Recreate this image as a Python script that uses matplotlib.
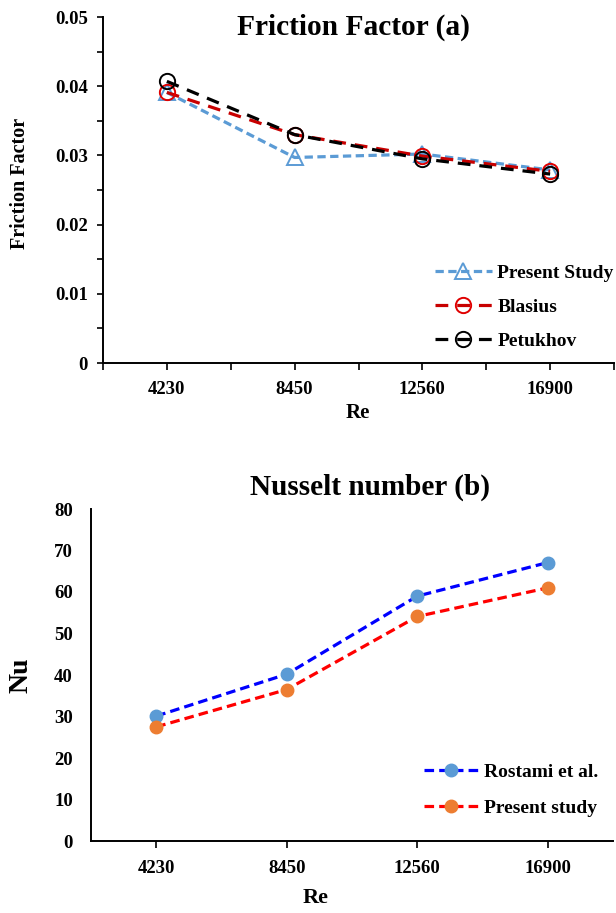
import matplotlib
matplotlib.use("Agg")
import matplotlib.pyplot as plt
from matplotlib.ticker import MultipleLocator

plt.rcParams["font.family"] = ["Liberation Serif", "DejaVu Serif"]
plt.rcParams["font.weight"] = "bold"

W, H = 616, 913

re_labels = ["4230", "8450", "12560", "16900"]

# friction factor (a)
f_present = [0.0391, 0.0297, 0.0302, 0.0279]
f_blasius = [0.0391, 0.0330, 0.0299, 0.0277]
f_petukhov = [0.0407, 0.0330, 0.0295, 0.0273]

# Nusselt number (b)
nu_rostami = [30.1, 40.2, 59.0, 67.1]
nu_present = [27.5, 36.5, 54.1, 61.0]


def px_axes(left, top, right, bottom):
    return [left / W, 1 - bottom / H, (right - left) / W, (bottom - top) / H]


def main() -> None:
    fig = plt.figure(figsize=(W / 100, H / 100), dpi=100)
    x = list(range(len(re_labels)))

    # ---- top panel ----
    ax1 = fig.add_axes(px_axes(103, 17, 614, 363))
    ax1.plot(x, f_present, color="#5B9BD5", lw=2.3, dashes=(2.6, 1.4),
             marker="^", ms=11, mfc="none", mec="#5B9BD5", mew=1.4,
             label="Present Study")
    ax1.plot(x, f_blasius, color="#C80000", lw=2.3, dashes=(4, 2.8),
             marker="o", ms=11, mfc="none", mec="#E00000", mew=1.4,
             label="Blasius")
    ax1.plot(x, f_petukhov, color="black", lw=2.3, dashes=(4, 2.8),
             marker="o", ms=11, mfc="none", mec="black", mew=1.4,
             label="Petukhov")

    ax1.set_xlim(-0.5, 3.5)
    ax1.set_ylim(0, 0.05)
    ax1.yaxis.set_minor_locator(MultipleLocator(0.005))
    ax1.set_yticks([0, 0.01, 0.02, 0.03, 0.04, 0.05])
    ax1.set_yticklabels(["0", "0.01", "0.02", "0.03", "0.04", "0.05"])
    ax1.set_xticks(x)
    ax1.set_xticklabels(re_labels)
    ax1.xaxis.set_minor_locator(MultipleLocator(0.5))
    ax1.tick_params(axis="y", which="both", direction="out", length=4,
                    width=1.2, pad=7, labelsize=13.5)
    ax1.tick_params(axis="x", which="both", direction="out", length=5,
                    width=1.2, pad=8, labelsize=13.5)
    for s in ["top", "right"]:
        ax1.spines[s].set_visible(False)
    for s in ["left", "bottom"]:
        ax1.spines[s].set_linewidth(1.4)

    ax1.legend(loc="center left", bbox_to_anchor=(0.65, 0.162), frameon=False,
               borderpad=0, borderaxespad=0, handlelength=2.9,
               handletextpad=0.3, labelspacing=0.83,
               prop={"size": 14, "weight": "bold"})

    fig.text(353 / W, 1 - 27 / H, "Friction Factor (a)", ha="center",
             va="center", fontsize=21.2, fontweight="bold")
    fig.text(20 / W, 1 - 183 / H, "Friction Factor", ha="center", va="center",
             rotation=90, fontsize=14.5, fontweight="bold")
    fig.text(358 / W, 1 - 413 / H, "Re", ha="center", va="center",
             fontsize=15, fontweight="bold")

    # ---- bottom panel ----
    ax2 = fig.add_axes(px_axes(91, 509, 613, 841))
    ax2.plot(x, nu_rostami, color="#0000FF", lw=2.3, dashes=(3, 1.6),
             marker="o", ms=9, mfc="#5B9BD5", mec="#5B9BD5",
             label="Rostami et al.")
    ax2.plot(x, nu_present, color="#FF0000", lw=2.3, dashes=(3, 1.6),
             marker="o", ms=9, mfc="#ED7D31", mec="#ED7D31",
             label="Present study")

    ax2.set_xlim(-0.5, 3.5)
    ax2.set_ylim(0, 80)
    ax2.set_yticks(range(0, 81, 10))
    ax2.set_xticks(x)
    ax2.set_xticklabels(re_labels)
    ax2.tick_params(axis="y", length=0, pad=13, labelsize=13.5)
    ax2.tick_params(axis="x", direction="out", length=5, width=1.2, pad=9,
                    labelsize=13.5)
    for s in ["top", "right"]:
        ax2.spines[s].set_visible(False)
    for s in ["left", "bottom"]:
        ax2.spines[s].set_linewidth(1.4)

    ax2.legend(loc="center left", bbox_to_anchor=(0.638, 0.154), frameon=False,
               borderpad=0, borderaxespad=0, handlelength=2.8,
               handletextpad=0.3, labelspacing=0.95,
               prop={"size": 14, "weight": "bold"})

    fig.text(370 / W, 1 - 487 / H, "Nusselt number (b)", ha="center",
             va="center", fontsize=21.1, fontweight="bold")
    fig.text(21 / W, 1 - 675 / H, "Nu", ha="center", va="center",
             rotation=90, fontsize=20, fontweight="bold")
    fig.text(316 / W, 1 - 898 / H, "Re", ha="center", va="center",
             fontsize=16, fontweight="bold")

    fig.savefig("out.png", dpi=100)
    plt.close(fig)


if __name__ == "__main__":
    main()
